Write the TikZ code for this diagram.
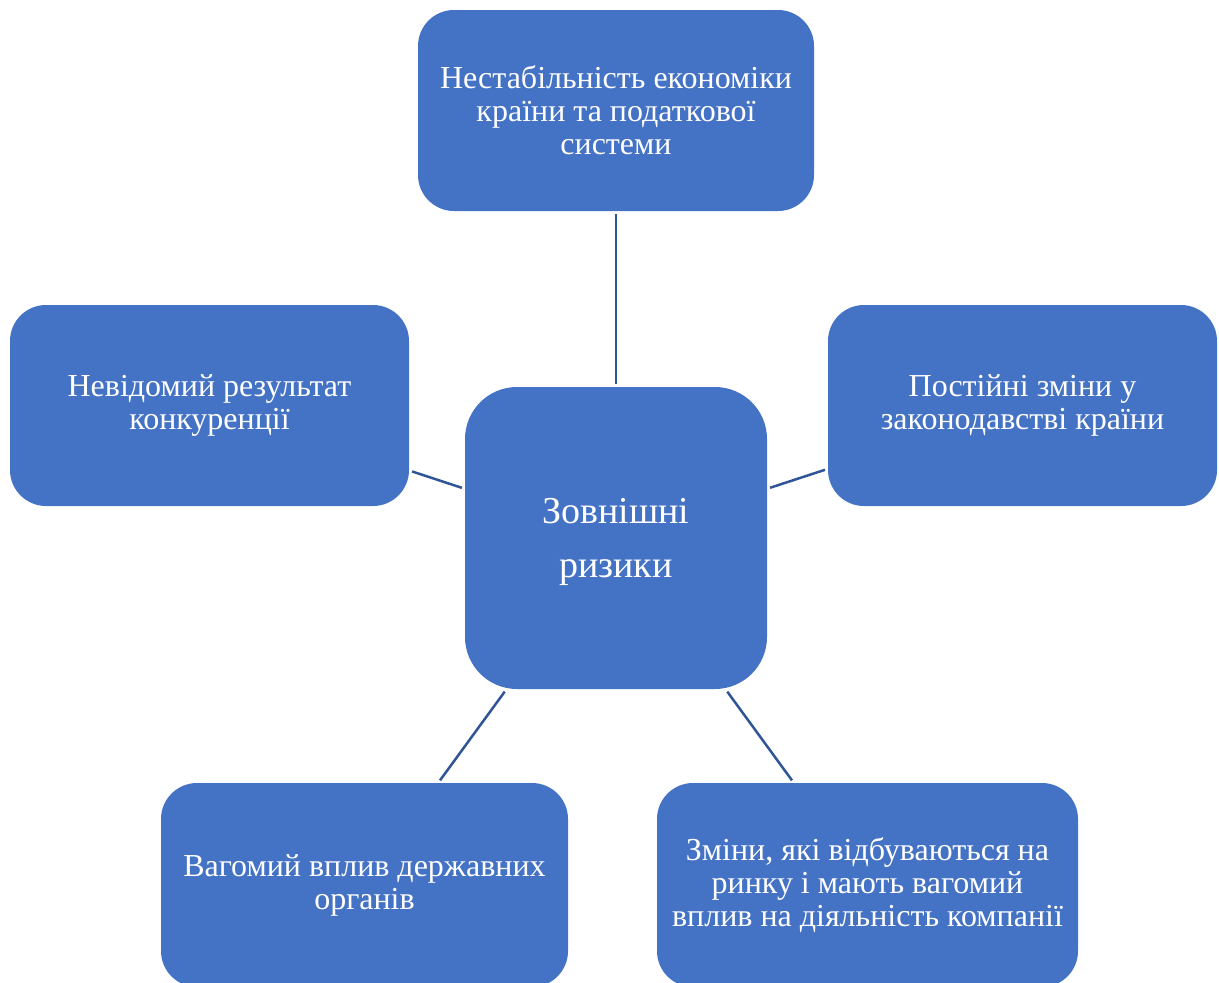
\documentclass[tikz,border=0pt]{standalone}
\usepackage{fontspec}
\setmainfont{Liberation Serif}
\definecolor{boxfill}{HTML}{4472C4}
\definecolor{linkcol}{HTML}{2F5597}
\begin{document}
\begin{tikzpicture}[x=1pt,y=-1pt,
  riskbox/.style={draw=none, fill=boxfill, rounded corners=36pt, text=white,
    align=center, inner sep=0pt, font=\fontsize{32}{33}\selectfont},
  hubbox/.style={riskbox, rounded corners=52pt, font=\fontsize{38}{54}\selectfont},
  link/.style={draw=linkcol, line width=2.5pt, shorten <=3pt, shorten >=3pt}]
\useasboundingbox (0,0) rectangle (1219,983);
% outer boxes (centre coordinates, sizes in px)
\node[riskbox, minimum width=396pt, minimum height=201pt] (top) at (616,110.5)
  {Нестабільність економіки\\країни та податкової\\системи};
\node[riskbox, minimum width=399pt, minimum height=201pt] (left) at (209.5,405.5)
  {Невідомий результат\\конкуренції};
\node[riskbox, minimum width=389pt, minimum height=201pt] (right) at (1022.5,405.5)
  {Постійні зміни у\\законодавстві країни};
\node[riskbox, minimum width=407pt, minimum height=204pt] (bl) at (364.5,885)
  {Вагомий вплив державних\\органів};
\node[riskbox, minimum width=421pt, minimum height=204pt] (br) at (867.5,885)
  {Зміни, які відбуваються на\\ринку і мають вагомий\\вплив на діяльність компанії};
% central box
\node[hubbox, minimum width=302pt, minimum height=302pt] (hub) at (616,538) {};
\node[text=white, align=center, inner sep=0pt, font=\fontsize{38}{54}\selectfont]
  (hubtext) at (616,542) {Зовнішні\\ризики};
% connectors
\draw[link] (hub) -- (top);
\draw[link] (hub) -- (left);
\draw[link] (hub) -- (right);
\draw[link] (hub) -- (bl);
\draw[link] (hub) -- (br);
\end{tikzpicture}
\end{document}
